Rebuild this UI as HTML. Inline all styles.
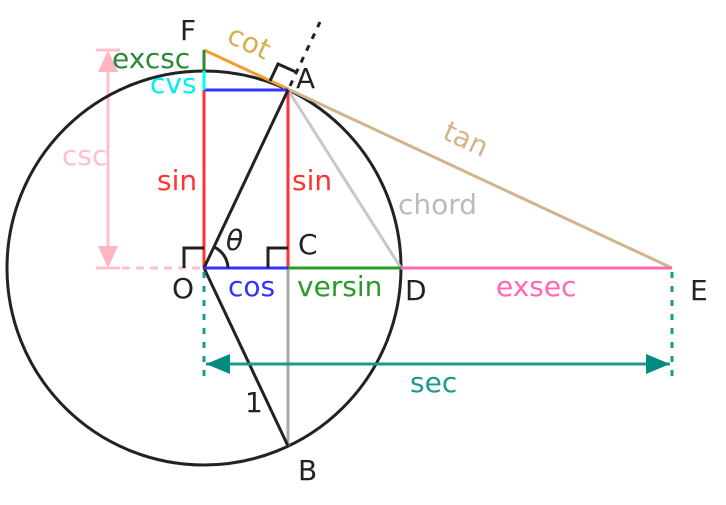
<!DOCTYPE html>
<html><head><style>html,body{margin:0;padding:0;background:#fff}svg{display:block}text{font-family:"DejaVu Sans","Liberation Sans",sans-serif}</style></head>
<body>
<svg width="726" height="505" viewBox="0 0 726 505" xmlns="http://www.w3.org/2000/svg">
<defs>
<marker id="ta" markerWidth="10" markerHeight="8" refX="9" refY="4" orient="auto" markerUnits="userSpaceOnUse" viewBox="0 0 10 8"><path d="M0,0L10,4L0,8z" fill="#008b80"/></marker>
<marker id="pa" markerWidth="10" markerHeight="8" refX="9" refY="4" orient="auto" markerUnits="userSpaceOnUse" viewBox="0 0 10 8"><path d="M0,0L10,4L0,8z" fill="#ffb6c1"/></marker>
</defs>
<!-- csc -->
<line x1="108" y1="62" x2="108" y2="256" stroke="#ffc0cb" stroke-width="3"/>
<path d="M108,50 L98,72 L118,72z M108,268 L98,246 L118,246z" fill="#ffb6c1"/>
<line x1="96" y1="50" x2="120" y2="50" stroke="#ffc0cb" stroke-width="3"/>
<line x1="96" y1="268" x2="120" y2="268" stroke="#ffc0cb" stroke-width="3"/>
<line x1="122" y1="268" x2="204" y2="268" stroke="#ffc0cb" stroke-width="3" stroke-dasharray="8,6"/>
<!-- circle -->
<circle cx="204" cy="268" r="197" fill="none" stroke="#222" stroke-width="3"/>
<!-- chord -->
<line x1="288" y1="90" x2="401" y2="268" stroke="#c8c8c8" stroke-width="3"/>
<line x1="288" y1="268" x2="288" y2="446" stroke="#aaa" stroke-width="3"/>
<!-- tan, cot -->
<line x1="288" y1="89" x2="672" y2="268" stroke="#d2b48c" stroke-width="3"/>
<line x1="204" y1="50" x2="288" y2="89" stroke="#f0a030" stroke-width="3"/>
<line x1="290" y1="86" x2="320" y2="22" stroke="#222" stroke-width="3" stroke-dasharray="6,7"/>
<!-- sin -->
<line x1="204" y1="90" x2="204" y2="268" stroke="#f33" stroke-width="3"/>
<line x1="288" y1="90" x2="288" y2="268" stroke="#f33" stroke-width="3"/>
<line x1="204" y1="90" x2="288" y2="90" stroke="#33f" stroke-width="3"/>
<line x1="204" y1="50" x2="204" y2="71" stroke="#2a8a2a" stroke-width="3"/>
<line x1="204" y1="71" x2="204" y2="90" stroke="#0ff" stroke-width="3"/>
<!-- radius -->
<line x1="204" y1="268" x2="288" y2="90" stroke="#222" stroke-width="3"/>
<line x1="204" y1="268" x2="288" y2="446" stroke="#222" stroke-width="3"/>
<!-- cos versin exsec -->
<line x1="204" y1="268" x2="288" y2="268" stroke="#33f" stroke-width="3"/>
<line x1="288" y1="268" x2="401" y2="268" stroke="#2a9a2a" stroke-width="3"/>
<line x1="401" y1="268" x2="672" y2="268" stroke="#ff69b4" stroke-width="3"/>
<!-- right angles -->
<path d="M184,268 V248 H204" fill="none" stroke="#222" stroke-width="3"/>
<path d="M268,268 V248 H288" fill="none" stroke="#222" stroke-width="3"/>
<path d="M270,81 L278,64 L296,72" fill="none" stroke="#222" stroke-width="3"/>
<path d="M228,268 A24,24 0 0 0 214,247" fill="none" stroke="#222" stroke-width="3"/>
<!-- sec -->
<line x1="204" y1="272" x2="204" y2="378" stroke="#1a9a90" stroke-width="3" stroke-dasharray="6,8"/>
<line x1="672" y1="272" x2="672" y2="378" stroke="#1a9a90" stroke-width="3" stroke-dasharray="6,8"/>
<line x1="206" y1="364" x2="670" y2="364" stroke="#1a9a90" stroke-width="3"/>
<path d="M206,364 L230,354 L230,374z M670,364 L646,354 L646,374z" fill="#008b80"/>
<!-- labels -->
<g font-size="28">
<text x="180" y="40" fill="#222">F</text>
<text x="296" y="88" fill="#222">A</text>
<text x="298" y="254" fill="#222">C</text>
<text x="172" y="298" fill="#222">O</text>
<text x="405" y="300" fill="#222">D</text>
<text x="690" y="300" fill="#222">E</text>
<text x="298" y="480" fill="#222">B</text>
<text x="245" y="412" fill="#222" font-family="Liberation Serif,serif">1</text>
<text x="226" y="250" fill="#222" font-style="italic" font-family="Liberation Serif,serif">θ</text>
<text x="112" y="68" fill="#2a8a3a">excsc</text>
<text x="150" y="93" fill="#0ee">cvs</text>
<text x="62" y="165" fill="#ffc0cb">csc</text>
<text x="157" y="190" fill="#f33">sin</text>
<text x="292" y="190" fill="#f33">sin</text>
<text x="398" y="214" fill="#bbb">chord</text>
<text x="228" y="296" fill="#33f">cos</text>
<text x="297" y="296" fill="#2a9a2a">versin</text>
<text x="496" y="296" fill="#ff69b4">exsec</text>
<text x="410" y="392" fill="#1a9a90">sec</text>
<text x="224" y="52" fill="#d4b050" transform="rotate(25 248 50)">cot</text>
<text x="438" y="148" fill="#d2b48c" transform="rotate(25 462 150)">tan</text>
</g>
</svg>
</body></html>
